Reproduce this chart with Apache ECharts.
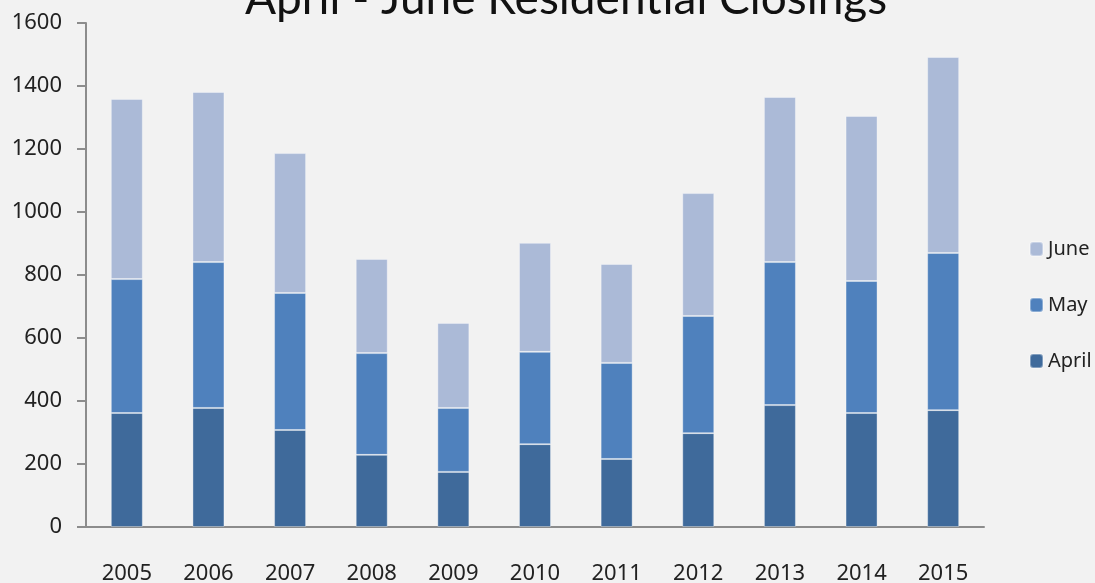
<!DOCTYPE html>
<html>
<head>
<meta charset="utf-8">
<script src="https://cdn.jsdelivr.net/npm/echarts@6/dist/echarts.min.js"></script>
<style>
  html, body { margin: 0; padding: 0; background: #f2f2f2; }
  #main { width: 1095px; height: 583px; }
</style>
</head>
<body>
<div id="main"></div>
<script>
// years on the x axis
var years = ['2005', '2006', '2007', '2008', '2009', '2010', '2011', '2012', '2013', '2014', '2015'];
// closings per month (stack order: April at bottom, then May, then June)
var april = [362, 378, 308, 229, 175, 263, 216, 298, 387, 362, 371];
var may = [425, 463, 435, 323, 203, 293, 305, 372, 454, 419, 499];
var june = [572, 540, 444, 299, 270, 346, 314, 390, 524, 524, 622];

var labelFont = '"Noto Sans", sans-serif';

var myChart = echarts.init(document.getElementById('main'));

var option = {
    backgroundColor: '#f2f2f2',
    title: {
        text: 'April - June Residential Closings',
        left: 240,
        top: -29,
        textStyle: {
            fontFamily: 'Lato',
            fontWeight: 'normal',
            fontSize: 46,
            color: '#111'
        }
    },
    legend: {
        data: ['June', 'May', 'April'],
        orient: 'vertical',
        left: 1024,
        top: 234,
        itemWidth: 13,
        itemHeight: 14,
        itemGap: 36,
        textStyle: { fontFamily: labelFont, fontSize: 20, color: '#222' }
    },
    grid: { left: 86, right: 111, top: 23, bottom: 56, outerBoundsMode: 'none', containLabel: false },
    xAxis: {
        type: 'category',
        data: years,
        axisLine: { lineStyle: { color: '#8c8c8c', width: 2 } },
        axisTick: { length: 9, lineStyle: { color: '#8c8c8c', width: 2 } },
        axisLabel: { margin: 36, fontFamily: labelFont, fontSize: 22, color: '#222' }
    },
    yAxis: {
        type: 'value',
        min: 0,
        max: 1600,
        interval: 200,
        splitLine: { show: false },
        axisLine: { show: true, lineStyle: { color: '#8c8c8c', width: 2 } },
        axisTick: { show: true, length: 9, lineStyle: { color: '#8c8c8c', width: 2 } },
        axisLabel: {
            margin: 24, fontFamily: labelFont, fontSize: 22, color: '#222',
            formatter: function (v) { return String(v); }
        }
    },
    series: [
        {
            name: 'April', type: 'bar', stack: 'total', data: april, barWidth: 32,
            itemStyle: { color: '#3f6a9b', borderColor: 'rgba(255,255,255,0.35)', borderWidth: 1 }
        },
        {
            name: 'May', type: 'bar', stack: 'total', data: may, barWidth: 32,
            itemStyle: { color: '#4f81bd', borderColor: 'rgba(255,255,255,0.35)', borderWidth: 1 }
        },
        {
            name: 'June', type: 'bar', stack: 'total', data: june, barWidth: 32,
            itemStyle: { color: '#abbad7', borderColor: 'rgba(255,255,255,0.35)', borderWidth: 1 }
        }
    ]
};

myChart.setOption(option);
</script>
</body>
</html>
